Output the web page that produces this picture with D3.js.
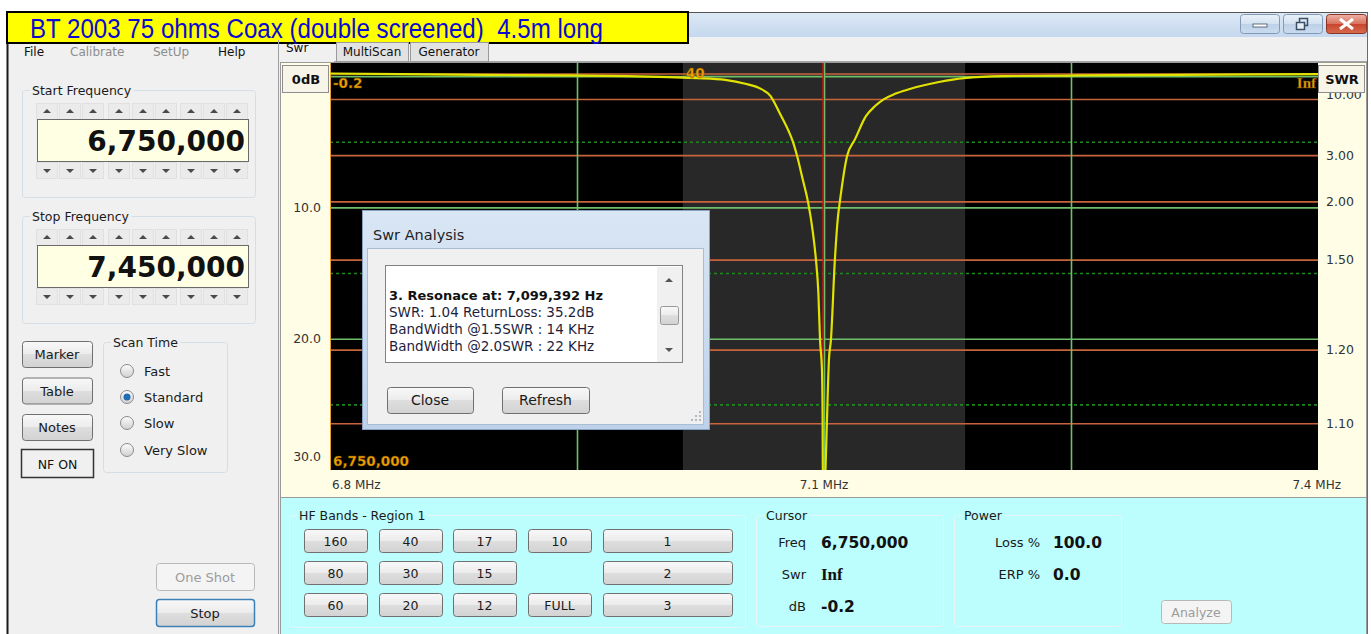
<!DOCTYPE html>
<html>
<head>
<meta charset="utf-8">
<style>
body { margin: 0; background: #fff; overflow: hidden; }
text { font-family: "DejaVu Sans", Verdana, sans-serif; white-space: pre; }
</style>
</head>
<body>
<svg id="app" width="1371" height="634"></svg>
<script src="https://d3js.org/d3.v7.min.js"></script>
<script>
// values
const windowTitle = 'BT 2003 75 ohms Coax (double screened)  4.5m long';
const menuItems = ['File', 'Calibrate', 'SetUp', 'Help'];
const menuEnabled = [true, false, false, true];
const tabs = ['Swr', 'MultiScan', 'Generator'];
const startFreq = '6,750,000';
const stopFreq = '7,450,000';
const freqRange = [6.75, 7.45];           // MHz
const dbRange = [-1, 30];                 // return loss axis
// trace: frequency (MHz) / return loss (dB)
const traceFreq = [6.750, 6.800, 6.860, 6.920, 6.960, 6.990, 7.010, 7.030, 7.045, 7.055, 7.062, 7.069,
  7.075, 7.078, 7.081, 7.085, 7.0887, 7.092, 7.0943, 7.096, 7.0972, 7.0986, 7.0990, 7.0994,
  7.1012, 7.1021, 7.1035, 7.1049, 7.1077, 7.1099, 7.1113, 7.1163, 7.1220, 7.1297, 7.1360, 7.1425,
  7.1503, 7.1602, 7.1815, 7.1992, 7.2268, 7.280, 7.350, 7.450];
const traceDb = [-0.20, -0.15, -0.10, -0.05, 0.00, 0.08, 0.15, 0.28, 0.60, 0.95, 1.50, 2.90,
  4.20, 5.00, 6.10, 7.90, 9.60, 11.8, 14.0, 16.5, 20.1, 22.5, 26.0, 35.2,
  29.5, 26.2, 21.6, 20.1, 14.0, 10.7, 9.5, 6.1, 4.8, 3.05, 2.30, 1.75,
  1.35, 1.00, 0.45, 0.15, 0.00, -0.05, -0.10, -0.15];
const dbMajor = [0, 10, 20];
const dbMinor = [5, 15, 25];
const dbLabels = [10, 20, 30];
const swrTicks = [10, 3, 2, 1.5, 1.2, 1.1];
const vGrid = [6.925, 7.1, 7.275];
const xLabels = ['6.8 MHz', '7.1 MHz', '7.4 MHz'];
const hamBand = [7.0, 7.2];
const hamBandName = '40';
const resonance = 7.099392;
const cursorDb = -0.2;
const analysisLines = ['3. Resonace at: 7,099,392 Hz', 'SWR: 1.04 ReturnLoss: 35.2dB',
  'BandWidth @1.5SWR : 14 KHz', 'BandWidth @2.0SWR : 22 KHz'];
const scanTimes = ['Fast', 'Standard', 'Slow', 'Very Slow'];
const scanSelected = 'Standard';
const sideButtons = ['Marker', 'Table', 'Notes'];
const bandButtons = [['160', '40', '17', '10', '1'], ['80', '30', '15', '', '2'], ['60', '20', '12', 'FULL', '3']];
const cursorRows = [['Freq', '6,750,000'], ['Swr', 'Inf'], ['dB', '-0.2']];
const powerRows = [['Loss %', '100.0'], ['ERP %', '0.0']];

const SERIF = '"Liberation Serif", "DejaVu Serif", serif';
const svg = d3.select('#app');
const defs = svg.append('defs');
function grad(id, stops) {
  const g = defs.append('linearGradient').attr('id', id)
    .attr('x1', 0).attr('y1', 0).attr('x2', 0).attr('y2', 1);
  stops.forEach(([o, c]) => g.append('stop').attr('offset', o).attr('stop-color', c));
}
grad('btn', [[0, '#f8f8f8'], [0.48, '#ececec'], [0.5, '#dedede'], [1, '#d2d2d2']]);
grad('bar', [[0, '#dde9f6'], [1, '#c4d7ed']]);
grad('dlg', [[0, '#d9e6f4'], [1, '#bdd2ea']]);
grad('ctl', [[0, '#eaf1f9'], [0.48, '#d4e2f0'], [0.5, '#bdd0e7'], [1, '#cadcef']]);
grad('cls', [[0, '#eeb3a8'], [0.48, '#d9735f'], [0.5, '#c8432e'], [1, '#d66d4f']]);
grad('radio', [[0, '#fdfdfd'], [1, '#cfcfcf']]);

function button(g, x, y, w, h, label, o = {}) {
  g.append('rect').attr('x', x + 0.5).attr('y', y + 0.5).attr('width', w).attr('height', h).attr('rx', 3)
    .attr('fill', o.disabled ? '#f4f4f4' : (o.fill || 'url(#btn)'))
    .attr('stroke', o.stroke || (o.disabled ? '#b8b8b8' : '#707070'))
    .attr('stroke-width', o.sw || 1);
  if (label) g.append('text').attr('x', x + w / 2).attr('y', y + h / 2 + 5).attr('text-anchor', 'middle')
    .attr('font-size', o.fs || 13).attr('fill', o.disabled ? '#9c9c9c' : '#1a1a1a').text(label);
}

function groupBox(g, x, y, w, h, title, bg, stroke) {
  g.append('rect').attr('x', x + 0.5).attr('y', y + 0.5).attr('width', w).attr('height', h).attr('rx', 3)
    .attr('fill', 'none').attr('stroke', stroke);
  const t = g.append('text').attr('x', x + 10).attr('y', y + 5).attr('font-size', 12.5)
    .attr('fill', '#1a1a1a').text(title);
  const bb = t.node().getBBox();
  g.insert('rect', () => t.node()).attr('x', bb.x - 2).attr('y', bb.y).attr('width', bb.width + 4)
    .attr('height', bb.height).attr('fill', bg);
}

// window frame
svg.append('rect').attr('x', 7).attr('y', 12).attr('width', 1361).attr('height', 26).attr('fill', 'url(#bar)');
svg.append('rect').attr('x', 7).attr('y', 37).attr('width', 1361).attr('height', 597).attr('fill', '#f0f0f0');
svg.append('line').attr('x1', 7.5).attr('x2', 7.5).attr('y1', 12).attr('y2', 634).attr('stroke', '#1a1a1a').attr('stroke-width', 2);
svg.append('line').attr('x1', 1367.5).attr('x2', 1367.5).attr('y1', 12).attr('y2', 634).attr('stroke', '#6a6a6a');
svg.append('line').attr('x1', 688).attr('x2', 1368).attr('y1', 12.5).attr('y2', 12.5).attr('stroke', '#555');

// caption box
svg.append('rect').attr('x', 7).attr('y', 12).attr('width', 681).attr('height', 31)
  .attr('fill', '#ffff00').attr('stroke', '#000').attr('stroke-width', 2);
svg.append('text').attr('x', 30).attr('y', 37.5).style('font-family', '"Liberation Sans", Arial, sans-serif')
  .attr('font-size', 27).attr('fill', '#0a0ad0').attr('textLength', 573).attr('lengthAdjust', 'spacingAndGlyphs')
  .text(windowTitle);

// caption buttons
const ctl = svg.append('g');
ctl.append('rect').attr('x', 1240.5).attr('y', 14.5).attr('width', 39).attr('height', 19).attr('rx', 3)
  .attr('fill', 'url(#ctl)').attr('stroke', '#8198b6');
ctl.append('rect').attr('x', 1253).attr('y', 24).attr('width', 14).attr('height', 3).attr('fill', '#fff').attr('stroke', '#3d4f66').attr('stroke-width', 0.8);
ctl.append('rect').attr('x', 1283.5).attr('y', 14.5).attr('width', 39).attr('height', 19).attr('rx', 3)
  .attr('fill', 'url(#ctl)').attr('stroke', '#8198b6');
ctl.append('rect').attr('x', 1299.5).attr('y', 18.5).attr('width', 8).attr('height', 7).attr('fill', 'none').attr('stroke', '#3d4f66').attr('stroke-width', 1.5);
ctl.append('rect').attr('x', 1296.5).attr('y', 22.5).attr('width', 8).attr('height', 7).attr('fill', '#e8eef6').attr('stroke', '#3d4f66').attr('stroke-width', 1.5);
ctl.append('rect').attr('x', 1326.5).attr('y', 14.5).attr('width', 40).attr('height', 19).attr('rx', 3)
  .attr('fill', 'url(#cls)').attr('stroke', '#8c3526');
ctl.append('path').attr('d', 'M1340,19L1353,29M1353,19L1340,29').attr('stroke', '#fff').attr('stroke-width', 3);

// menu
const menuX = [24, 70, 153, 218];
menuItems.forEach((m, i) => {
  svg.append('text').attr('x', menuX[i]).attr('y', 56).attr('font-size', 12)
    .attr('fill', menuEnabled[i] ? '#111' : '#8d8d8d').text(m);
});

// tabs
svg.append('line').attr('x1', 334).attr('x2', 1367).attr('y1', 61.5).attr('y2', 61.5).attr('stroke', '#a5a5a5');
svg.append('text').attr('x', 286).attr('y', 52).attr('font-size', 12).attr('fill', '#111').text(tabs[0]);
[[336, 72], [410, 78]].forEach(([x, w], i) => {
  svg.append('rect').attr('x', x + 0.5).attr('y', 42.5).attr('width', w).attr('height', 19)
    .attr('fill', '#e2e2e2').attr('stroke', '#9a9a9a');
  svg.append('text').attr('x', x + w / 2).attr('y', 56).attr('text-anchor', 'middle').attr('font-size', 12)
    .attr('fill', '#111').text(tabs[i + 1]);
});

// left panel
const left = svg.append('g');
left.append('line').attr('x1', 278.5).attr('x2', 278.5).attr('y1', 40).attr('y2', 634).attr('stroke', '#a0a0a0');
const digitX = [47, 70, 93, 119, 143, 166, 191, 214, 237];
function freqBox(y0, title, value) {
  groupBox(left, 22, y0, 233, 107, title, '#f0f0f0', '#d6dee5');
  digitX.forEach(cx => {
    [y0 + 21, y0 + 80].forEach((cy, k) => {
      left.append('rect').attr('x', cx - 10.5).attr('y', cy - 7.5).attr('width', 21).attr('height', 16)
        .attr('fill', '#ebebeb').attr('stroke', '#e0e0e0');
      const d = k === 0 ? `M${cx - 4},${cy + 2}L${cx + 4},${cy + 2}L${cx},${cy - 2}Z`
                        : `M${cx - 4},${cy - 1}L${cx + 4},${cy - 1}L${cx},${cy + 3}Z`;
      left.append('path').attr('d', d).attr('fill', '#4a4a4a');
    });
  });
  left.append('rect').attr('x', 37.5).attr('y', y0 + 29.5).attr('width', 211).attr('height', 42)
    .attr('fill', '#ffffe4').attr('stroke', '#6a6a6a');
  left.append('text').attr('x', 245).attr('y', y0 + 61).attr('text-anchor', 'end').attr('font-size', 28)
    .attr('font-weight', 'bold').attr('fill', '#111').text(value);
}
freqBox(90, 'Start Frequency', startFreq);
freqBox(216, 'Stop Frequency', stopFreq);

sideButtons.forEach((b, i) => button(left, 22, 341 + i * 36.5, 70, 26, b));
left.append('rect').attr('x', 21.5).attr('y', 449.5).attr('width', 72).attr('height', 28)
  .attr('fill', '#f0f0f0').attr('stroke', '#333').attr('stroke-width', 1.5);
left.append('text').attr('x', 57.5).attr('y', 469).attr('text-anchor', 'middle').attr('font-size', 12.5)
  .attr('fill', '#111').text('NF ON');

groupBox(left, 103, 342, 124, 130, 'Scan Time', '#f0f0f0', '#d6dee5');
const radioY = [371, 397, 423, 450];
scanTimes.forEach((s, i) => {
  left.append('circle').attr('cx', 127).attr('cy', radioY[i]).attr('r', 6.5)
    .attr('fill', 'url(#radio)').attr('stroke', '#8b8b8b');
  if (s === scanSelected) left.append('circle').attr('cx', 127).attr('cy', radioY[i]).attr('r', 3.5).attr('fill', '#1f6db3');
  left.append('text').attr('x', 144).attr('y', radioY[i] + 5).attr('font-size', 13).attr('fill', '#1a1a1a').text(s);
});
button(left, 156, 563, 98, 27, 'One Shot', { disabled: true });
button(left, 156, 599, 98, 27, 'Stop', { stroke: '#3c80b8', sw: 1.5 });

// chart frame
const frame = svg.append('g');
frame.append('rect').attr('x', 280.5).attr('y', 62.5).attr('width', 1086).attr('height', 435)
  .attr('fill', '#fffde6').attr('stroke', '#9a9a9a');

const plot = { x0: 330, x1: 1318, y0: 63, y1: 470 };
const x = d3.scaleLinear().domain(freqRange).range([plot.x0, plot.x1]);
const y = d3.scaleLinear().domain(dbRange).range([plot.y0, plot.y1]);
const swrToDb = s => 20 * Math.log10((s + 1) / (s - 1));

const chart = svg.append('g');
chart.append('rect').attr('x', plot.x0).attr('y', plot.y0).attr('width', plot.x1 - plot.x0)
  .attr('height', plot.y1 - plot.y0).attr('fill', '#000');
chart.append('rect').attr('x', x(hamBand[0])).attr('y', plot.y0).attr('width', x(hamBand[1]) - x(hamBand[0]))
  .attr('height', plot.y1 - plot.y0).attr('fill', '#282828');

function gridAxis(vals, stroke, dash) {
  const g = chart.append('g').attr('transform', `translate(${plot.x0},0)`)
    .call(d3.axisRight(y).tickValues(vals).tickSize(plot.x1 - plot.x0).tickFormat(''));
  g.select('.domain').remove();
  g.selectAll('line').attr('stroke', stroke).attr('stroke-width', 1.6).attr('stroke-dasharray', dash);
}
gridAxis(dbMinor, '#1c8a1c', '3,3');
gridAxis(dbMajor, '#6fbf6a', null);
gridAxis(swrTicks.map(swrToDb).concat([cursorDb]), '#c8643c', null);

const vg = chart.append('g').attr('transform', `translate(0,${plot.y0})`)
  .call(d3.axisBottom(x).tickValues(vGrid).tickSize(plot.y1 - plot.y0).tickFormat(''));
vg.select('.domain').remove();
vg.selectAll('line').attr('stroke', '#6fbf6a').attr('stroke-width', 1.6);
chart.append('line').attr('x1', x(resonance)).attr('x2', x(resonance)).attr('y1', plot.y0).attr('y2', plot.y1)
  .attr('stroke', '#e01010').attr('stroke-width', 1.6);
chart.append('line').attr('x1', plot.x0 + 0.5).attr('x2', plot.x0 + 0.5).attr('y1', plot.y0).attr('y2', plot.y1)
  .attr('stroke', '#e8a030');

defs.append('clipPath').attr('id', 'clip').append('rect').attr('x', plot.x0).attr('y', plot.y0)
  .attr('width', plot.x1 - plot.x0).attr('height', plot.y1 - plot.y0);
const line = d3.line().x(d => x(d[0])).y(d => y(d[1])).curve(d3.curveMonotoneX);
chart.append('path').attr('clip-path', 'url(#clip)').attr('d', line(traceFreq.map((f, i) => [f, traceDb[i]])))
  .attr('fill', 'none').attr('stroke', '#e2e200').attr('stroke-width', 2.2);

// orange annotations
const orange = (tx, ty, anchor, txt, fam) => chart.append('text').attr('x', tx).attr('y', ty)
  .attr('text-anchor', anchor).attr('font-size', fam ? 15 : 13.5).attr('font-weight', 'bold')
  .style('font-family', fam || null).attr('fill', '#f0a000')
  .attr('stroke', '#6a4400').attr('stroke-width', 0.4).text(txt);
orange(plot.x0 + 3, 88, 'start', cursorDb.toFixed(1));
orange(x(hamBand[0]) + 3, 78, 'start', hamBandName);
orange(plot.x1 - 2, 88, 'end', 'Inf', SERIF);
orange(plot.x0 + 3, 466, 'start', startFreq);

// axes labels
const yl = chart.append('g').attr('transform', `translate(${plot.x0 - 6},0)`)
  .call(d3.axisLeft(y).tickValues(dbLabels).tickSize(0).tickFormat(d3.format('.1f')));
yl.select('.domain').remove();
yl.selectAll('text').attr('font-size', 12.5).attr('fill', '#333')
  .filter(d => d === 30).attr('dy', '-0.75em');
const yr = chart.append('g').attr('transform', `translate(${plot.x1 + 5},0)`)
  .call(d3.axisRight(y).tickValues(swrTicks.map(swrToDb)).tickSize(0).tickFormat((d, i) => swrTicks[i].toFixed(2)));
yr.select('.domain').remove();
yr.selectAll('text').attr('font-size', 12.5).attr('fill', '#333')
  .filter((d, i) => i === 0).attr('dy', '-0.05em');

const xlPos = [[x(freqRange[0]) + 2, 'start'], [x(7.1), 'middle'], [x(freqRange[1]) + 23, 'end']];
xLabels.forEach((t, i) => chart.append('text').attr('x', xlPos[i][0]).attr('y', 489)
  .attr('text-anchor', xlPos[i][1]).attr('font-size', 12).attr('fill', '#333').text(t));

[[282, '0dB'], [1318, 'SWR']].forEach(([bx, t]) => {
  chart.append('rect').attr('x', bx + 0.5).attr('y', 65.5).attr('width', 46).attr('height', 27)
    .attr('fill', '#f7f5e8').attr('stroke', '#8e8e8e');
  chart.append('text').attr('x', bx + 24).attr('y', 84).attr('text-anchor', 'middle').attr('font-size', 13)
    .attr('font-weight', 'bold').attr('fill', '#111').text(t);
});

// bottom panel
const bottom = svg.append('g');
bottom.append('rect').attr('x', 280.5).attr('y', 497.5).attr('width', 1086).attr('height', 137)
  .attr('fill', '#bcfdfd').attr('stroke', '#9a9a9a');
groupBox(bottom, 289, 515, 456, 112, 'HF Bands - Region 1', '#bcfdfd', '#e4f6f6');
const colX = [304, 379, 453, 528, 603], colW = [63, 63, 63, 63, 129], rowY = [529, 561, 593];
bandButtons.forEach((row, r) => row.forEach((b, c) => {
  if (b) button(bottom, colX[c], rowY[r], colW[c], 23, b, { fs: 12.5 });
}));
groupBox(bottom, 756, 515, 187, 111, 'Cursor', '#bcfdfd', '#e4f6f6');
cursorRows.forEach(([k, v], i) => {
  bottom.append('text').attr('x', 806).attr('y', 547 + i * 32).attr('text-anchor', 'end').attr('font-size', 13).attr('fill', '#1a1a1a').text(k);
  bottom.append('text').attr('x', 821).attr('y', 548 + i * 32).attr('font-size', v === 'Inf' ? 17 : 15.5).attr('font-weight', 'bold')
    .style('font-family', v === 'Inf' ? SERIF : null).attr('fill', '#111').text(v);
});
groupBox(bottom, 954, 515, 167, 111, 'Power', '#bcfdfd', '#e4f6f6');
powerRows.forEach(([k, v], i) => {
  bottom.append('text').attr('x', 1040).attr('y', 547 + i * 32).attr('text-anchor', 'end').attr('font-size', 13).attr('fill', '#1a1a1a').text(k);
  bottom.append('text').attr('x', 1053).attr('y', 548 + i * 32).attr('font-size', 15.5).attr('font-weight', 'bold').attr('fill', '#111').text(v);
});
button(bottom, 1161, 600, 70, 23, 'Analyze', { disabled: true, fs: 12.5 });

// Swr Analysis dialog
const dlg = svg.append('g');
dlg.append('rect').attr('x', 362.5).attr('y', 210.5).attr('width', 347).attr('height', 219)
  .attr('fill', 'url(#dlg)').attr('stroke', '#8aa2bf');
dlg.append('text').attr('x', 373).attr('y', 240).attr('font-size', 14.5).attr('fill', '#1e1e1e').text('Swr Analysis');
dlg.append('rect').attr('x', 367.5).attr('y', 248.5).attr('width', 336).attr('height', 176)
  .attr('fill', '#f0f0f0').attr('stroke', '#a9bdd6');
dlg.append('rect').attr('x', 385.5).attr('y', 265.5).attr('width', 297).attr('height', 97)
  .attr('fill', '#fff').attr('stroke', '#828282');
dlg.append('rect').attr('x', 657).attr('y', 267).attr('width', 25).attr('height', 95).attr('fill', '#f0f0f0');
dlg.append('path').attr('d', 'M665,282L673,282L669,278Z').attr('fill', '#555');
dlg.append('path').attr('d', 'M665,348L673,348L669,352Z').attr('fill', '#555');
dlg.append('rect').attr('x', 660.5).attr('y', 306.5).attr('width', 18).attr('height', 18).attr('rx', 2)
  .attr('fill', 'url(#btn)').attr('stroke', '#999');
analysisLines.forEach((t, i) => {
  dlg.append('text').attr('x', 389).attr('y', 300 + i * 17).attr('font-size', i === 0 ? 13 : 13.5)
    .attr('font-weight', i === 0 ? 'bold' : null).attr('fill', i === 0 ? '#111' : '#1e1e3c').text(t);
});
button(dlg, 387, 387, 86, 26, 'Close', { fs: 14 });
button(dlg, 502, 387, 87, 26, 'Refresh', { fs: 14 });
[[699, 419], [695, 419], [699, 415], [691, 419], [695, 415], [699, 411]].forEach(([cx, cy]) =>
  dlg.append('rect').attr('x', cx).attr('y', cy).attr('width', 2).attr('height', 2).attr('fill', '#b0b8c4'));
</script>
</body>
</html>
